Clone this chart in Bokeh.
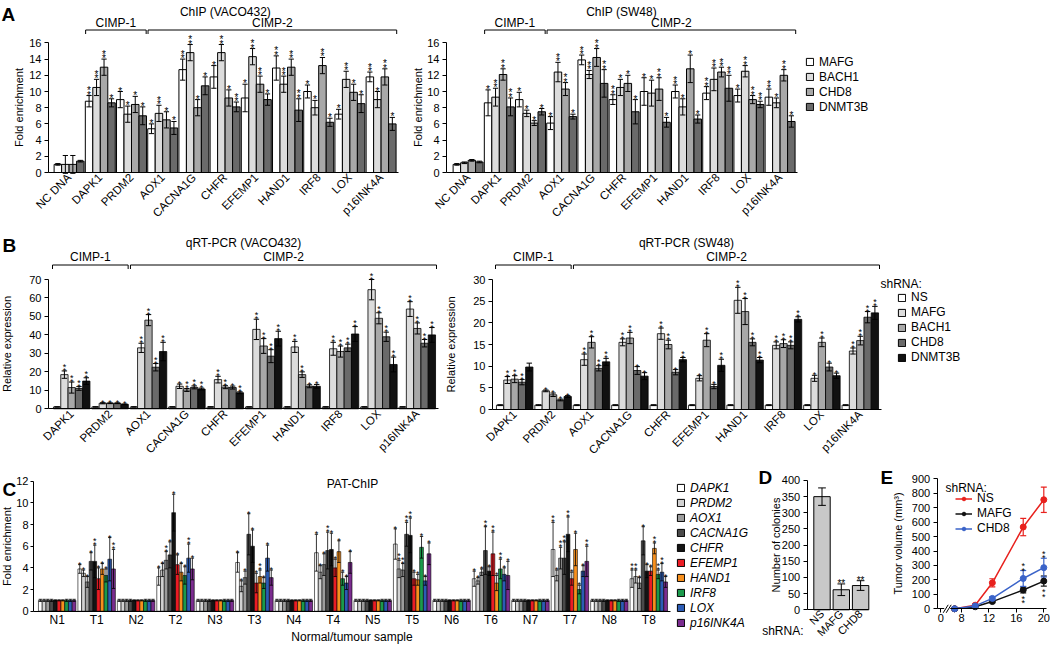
import math
from bokeh.plotting import figure
from bokeh.models import Range1d, FixedTicker, Legend, LegendItem
from bokeh.layouts import row, column
from bokeh.embed import file_html
from bokeh.resources import INLINE
from bokeh.core.properties import value

FONT = "Liberation Sans"

# ===================== DATA =====================
# ---- Panel A: ChIP fold enrichment ----
chip_targets = ["NC DNA", "DAPK1", "PRDM2", "AOX1", "CACNA1G", "CHFR", "EFEMP1", "HAND1", "IRF8", "LOX", "p16INK4A"]
chip_factors = ["MAFG", "BACH1", "CHD8", "DNMT3B"]
chip_colors = ["#ffffff", "#dcdcdc", "#a8a8a8", "#6a6a6a"]

vaco_chip_mafg = [1.0, 8.8, 9.0, 5.4, 12.7, 11.8, 9.2, 12.9, 10.0, 7.2, 11.8]
vaco_chip_bach1 = [1.0, 10.5, 7.2, 7.3, 14.8, 14.8, 14.3, 10.9, 8.0, 11.5, 9.0]
vaco_chip_chd8 = [1.0, 13.0, 8.4, 6.5, 8.0, 9.2, 10.9, 13.0, 13.2, 9.9, 11.8]
vaco_chip_dnmt3b = [1.4, 8.6, 7.0, 5.5, 10.7, 8.1, 9.0, 7.7, 6.2, 8.5, 6.0]
vaco_chip_mafg_err = [0.1, 0.7, 1.0, 0.6, 1.3, 1.4, 1.7, 1.5, 0.8, 0.6, 0.6]
vaco_chip_bach1_err = [1.1, 1.0, 1.0, 1.0, 1.0, 1.0, 1.0, 1.0, 0.9, 1.0, 1.0]
vaco_chip_chd8_err = [1.1, 1.0, 1.0, 1.0, 1.0, 1.0, 1.0, 1.0, 1.0, 1.0, 1.0]
vaco_chip_dnmt3b_err = [0.1, 0.5, 1.1, 0.8, 1.1, 0.6, 0.7, 1.4, 0.5, 1.1, 0.8]
vaco_chip_stars = [[0, 2, 1, 1, 2, 1, 1, 2, 1, 1, 2],
                   [0, 2, 1, 2, 2, 2, 2, 2, 1, 2, 1],
                   [0, 2, 1, 1, 1, 1, 2, 2, 2, 1, 2],
                   [0, 1, 1, 1, 1, 2, 1, 2, 1, 1, 1]]

sw48_chip_mafg = [1.0, 8.6, 9.0, 6.1, 13.9, 9.0, 10.0, 10.0, 9.8, 9.5, 9.3]
sw48_chip_bach1 = [1.2, 9.3, 7.3, 12.4, 12.1, 10.5, 9.8, 8.1, 11.5, 12.5, 8.6]
sw48_chip_chd8 = [1.5, 12.1, 6.1, 10.3, 14.2, 11.0, 10.3, 12.8, 12.4, 9.0, 12.0]
sw48_chip_dnmt3b = [1.3, 8.1, 7.5, 6.9, 11.0, 7.5, 6.2, 6.6, 10.4, 8.4, 6.3]
sw48_chip_mafg_err = [0.1, 1.6, 0.9, 0.8, 0.6, 0.6, 1.7, 0.8, 0.8, 0.8, 1.0]
sw48_chip_bach1_err = [0.1, 1.1, 0.4, 1.2, 0.5, 1.0, 1.6, 1.0, 1.4, 0.7, 0.6]
sw48_chip_chd8_err = [0.1, 0.7, 0.3, 0.8, 1.1, 1.0, 1.4, 1.7, 0.6, 0.5, 0.7]
sw48_chip_dnmt3b_err = [0.1, 1.1, 0.4, 0.3, 1.7, 1.5, 0.6, 0.5, 1.6, 0.4, 0.7]
sw48_chip_stars = [[0, 1, 1, 1, 2, 2, 1, 2, 2, 1, 2],
                   [0, 2, 1, 2, 2, 1, 1, 1, 2, 2, 1],
                   [0, 2, 1, 2, 2, 1, 2, 1, 2, 2, 2],
                   [0, 2, 1, 1, 2, 1, 1, 1, 2, 2, 1]]

# ---- Panel B: qRT-PCR relative expression ----
qpcr_genes = ["DAPK1", "PRDM2", "AOX1", "CACNA1G", "CHFR", "EFEMP1", "HAND1", "IRF8", "LOX", "p16INK4A"]
shrna_b = ["NS", "MAFG", "BACH1", "CHD8", "DNMT3B"]
shrna_b_colors = ["#ffffff", "#dcdcdc", "#a8a8a8", "#6a6a6a", "#111111"]

vaco_q_ns = [1.0, 1.0, 1.0, 1.0, 1.0, 1.0, 1.0, 1.0, 1.0, 1.0]
vaco_q_mafg = [18.5, 3.0, 33.0, 12.2, 15.8, 43.0, 33.5, 32.5, 64.5, 54.0]
vaco_q_bach1 = [11.5, 3.0, 48.0, 10.2, 11.7, 34.0, 18.5, 31.0, 49.0, 43.5]
vaco_q_chd8 = [11.0, 3.0, 22.5, 11.6, 11.5, 28.5, 12.2, 33.0, 39.0, 35.5]
vaco_q_dnmt3b = [15.0, 2.4, 31.0, 10.7, 8.7, 38.0, 12.2, 40.5, 24.0, 40.0]
vaco_q_ns_err = [0.1, 0.1, 0.1, 0.1, 0.1, 0.1, 0.1, 0.1, 0.1, 0.1]
vaco_q_mafg_err = [2.0, 0.3, 2.5, 1.2, 1.8, 5.5, 3.0, 3.5, 5.5, 4.0]
vaco_q_bach1_err = [3.0, 0.2, 3.0, 0.8, 0.8, 4.0, 1.5, 3.0, 3.0, 3.0]
vaco_q_chd8_err = [1.0, 0.2, 2.0, 0.8, 0.8, 3.5, 0.8, 2.0, 2.5, 2.0]
vaco_q_dnmt3b_err = [1.8, 0.2, 5.0, 0.5, 0.5, 4.0, 1.0, 4.0, 4.0, 4.0]
vaco_q_stars = [[0, 0, 0, 0, 0, 0, 0, 0, 0, 0],
                [2, 1, 2, 1, 2, 2, 2, 2, 2, 2],
                [2, 1, 2, 2, 2, 2, 2, 2, 2, 2],
                [2, 1, 2, 2, 1, 2, 1, 2, 2, 2],
                [2, 1, 2, 2, 2, 2, 1, 2, 2, 2]]

sw48_q_ns = [1.0, 1.0, 1.0, 1.0, 1.0, 1.0, 1.0, 1.0, 1.0, 1.0]
sw48_q_mafg = [6.8, 4.3, 11.5, 15.5, 17.5, 7.2, 25.2, 14.8, 7.2, 13.5]
sw48_q_bach1 = [7.0, 3.4, 15.5, 16.5, 15.0, 16.0, 22.6, 15.2, 15.5, 15.9]
sw48_q_chd8 = [6.3, 2.2, 9.5, 9.0, 8.6, 5.3, 15.5, 14.8, 9.8, 21.3]
sw48_q_dnmt3b = [9.8, 3.0, 11.0, 7.7, 11.5, 10.2, 11.4, 20.8, 7.8, 22.3]
sw48_q_ns_err = [0.1, 0.1, 0.1, 0.1, 0.1, 0.1, 0.1, 0.1, 0.1, 0.1]
sw48_q_mafg_err = [0.8, 0.2, 1.3, 0.8, 1.3, 0.6, 3.0, 0.8, 0.7, 0.7]
sw48_q_bach1_err = [0.8, 0.4, 1.3, 1.3, 1.0, 1.5, 3.0, 0.9, 1.0, 1.0]
sw48_q_chd8_err = [0.6, 0.2, 0.6, 0.9, 0.6, 0.5, 0.8, 0.8, 0.9, 1.3]
sw48_q_dnmt3b_err = [0.9, 0.2, 0.8, 0.8, 0.5, 1.4, 0.6, 0.6, 0.6, 1.5]
sw48_q_stars = [[0, 0, 0, 0, 0, 0, 0, 0, 0, 0],
                [2, 1, 2, 2, 2, 1, 2, 2, 1, 2],
                [2, 1, 2, 2, 2, 2, 2, 2, 2, 2],
                [2, 1, 2, 1, 1, 1, 2, 2, 1, 2],
                [0, 1, 2, 1, 2, 2, 2, 2, 1, 2]]

# ---- Panel C: PAT-ChIP ----
pat_samples = ["N1", "T1", "N2", "T2", "N3", "T3", "N4", "T4", "N5", "T5", "N6", "T6", "N7", "T7", "N8", "T8"]
pat_genes = ["DAPK1", "PRDM2", "AOX1", "CACNA1G", "CHFR", "EFEMP1", "HAND1", "IRF8", "LOX", "p16INK4A"]
pat_colors = ["#ffffff", "#d2d2d2", "#9c9c9c", "#4a4a4a", "#141414",
              "#ec1c24", "#f7901e", "#1b9a4b", "#2c5cb5", "#7b2c8f"]
pat_N1 = [1.0, 1.0, 1.0, 1.0, 1.0, 1.0, 1.0, 1.0, 1.0, 1.0]
pat_T1 = [3.9, 3.5, 2.7, 4.6, 4.6, 3.0, 3.9, 3.3, 4.8, 3.9]
pat_N2 = [1.0, 1.0, 1.0, 1.0, 1.0, 1.0, 1.0, 1.0, 1.0, 1.0]
pat_T2 = [3.2, 3.8, 4.7, 5.2, 9.1, 4.3, 3.6, 3.3, 4.9, 3.9]
pat_N3 = [1.0, 1.0, 1.0, 1.0, 1.0, 1.0, 1.0, 1.0, 1.0, 1.0]
pat_T3 = [4.5, 2.3, 3.1, 7.1, 6.0, 2.6, 3.2, 2.6, 4.9, 3.1]
pat_N4 = [1.0, 1.0, 1.0, 1.0, 1.0, 1.0, 1.0, 1.0, 1.0, 1.0]
pat_T4 = [5.4, 3.6, 4.3, 5.6, 5.7, 4.0, 5.5, 3.0, 2.6, 4.5]
pat_N5 = [1.0, 1.0, 1.0, 1.0, 1.0, 1.0, 1.0, 1.0, 1.0, 1.0]
pat_T5 = [6.2, 3.9, 3.8, 7.1, 7.0, 3.0, 2.9, 5.9, 2.8, 5.3]
pat_N6 = [1.0, 1.0, 1.0, 1.0, 1.0, 1.0, 1.0, 1.0, 1.0, 1.0]
pat_T6 = [3.0, 2.8, 3.6, 5.6, 3.7, 5.3, 2.6, 3.9, 3.4, 3.3]
pat_N7 = [1.0, 1.0, 1.0, 1.0, 1.0, 1.0, 1.0, 1.0, 1.0, 1.0]
pat_T7 = [5.7, 3.3, 4.9, 4.9, 7.1, 3.0, 5.7, 2.0, 3.7, 4.6]
pat_N8 = [1.0, 1.0, 1.0, 1.0, 1.0, 1.0, 1.0, 1.0, 1.0, 1.0]
pat_T8 = [3.0, 3.2, 2.6, 6.5, 3.7, 3.7, 5.8, 3.4, 3.6, 2.7]
pat_N_err = [0.1, 0.1, 0.1, 0.1, 0.05, 0.05, 0.05, 0.1, 0.1, 0.1]
pat_T1_err = [0.4, 0.3, 0.5, 0.8, 1.5, 1.0, 0.5, 0.6, 2.0, 1.8]
pat_T2_err = [0.8, 0.6, 0.8, 1.2, 1.7, 0.9, 0.8, 0.8, 1.3, 1.0]
pat_T3_err = [0.9, 0.5, 0.6, 1.9, 1.5, 0.9, 0.6, 0.5, 1.2, 0.7]
pat_T4_err = [1.7, 0.6, 1.0, 1.7, 1.5, 0.8, 1.0, 0.6, 0.6, 1.0]
pat_T5_err = [1.4, 0.8, 0.6, 1.1, 1.6, 0.6, 0.5, 1.0, 0.4, 1.0]
pat_T6_err = [0.7, 0.3, 0.3, 2.2, 0.4, 2.0, 0.7, 0.9, 0.6, 1.3]
pat_T7_err = [2.5, 0.5, 1.0, 1.5, 1.6, 0.6, 1.5, 0.4, 0.5, 1.4]
pat_T8_err = [0.8, 0.6, 0.5, 1.3, 0.6, 0.4, 0.5, 0.4, 0.8, 0.5]
pat_N_stars = [0, 0, 0, 0, 0, 0, 0, 0, 0, 0]
pat_T1_stars = [1, 1, 1, 1, 2, 1, 1, 1, 1, 2]
pat_T2_stars = [1, 1, 2, 1, 1, 1, 1, 1, 2, 1]
pat_T3_stars = [1, 1, 1, 1, 1, 1, 2, 1, 1, 1]
pat_T4_stars = [1, 1, 1, 2, 1, 1, 1, 1, 1, 1]
pat_T5_stars = [1, 2, 2, 2, 2, 1, 1, 1, 1, 1]
pat_T6_stars = [1, 1, 1, 2, 1, 2, 1, 2, 1, 1]
pat_T7_stars = [2, 1, 2, 2, 2, 1, 1, 1, 1, 2]
pat_T8_stars = [2, 2, 1, 1, 1, 1, 2, 2, 2, 1]

# ---- Panel D: colonies ----
colony_shrna = ["NS", "MAFG", "CHD8"]
colony_count = [350, 62, 75]
colony_err = [27, 18, 15]
colony_stars = [0, 2, 2]

# ---- Panel E: tumour volume ----
tumor_days = [7, 10, 12.5, 17, 20]
tumor_ns = [0, 25, 180, 566, 755]
tumor_ns_err = [0, 8, 28, 60, 88]
tumor_mafg = [0, 14, 50, 130, 192]
tumor_mafg_err = [0, 4, 8, 20, 35]
tumor_chd8 = [0, 20, 72, 210, 285]
tumor_chd8_err = [0, 5, 12, 55, 65]
tumor_names = ["NS", "MAFG", "CHD8"]
tumor_colors = ["#e8211d", "#111111", "#3a63c9"]


# ===================== HELPERS =====================
class Geo:
    """Placement of one figure on the page: page pixels <-> data units."""

    def __init__(self, left, top, width, height, x0, xppu, y0, yppu):
        self.left, self.top, self.width, self.height = left, top, width, height
        self.x0, self.xppu, self.y0, self.yppu = x0, xppu, y0, yppu

    def X(self, px):
        return (px - self.x0) / self.xppu

    def Y(self, py):
        return (self.y0 - py) / self.yppu

    def dx(self, px):
        return px / self.xppu

    def dy(self, px):
        return px / self.yppu


def mkfig(g):
    p = figure(width=g.width, height=g.height,
               x_range=Range1d(g.X(g.left), g.X(g.left + g.width)),
               y_range=Range1d(g.Y(g.top + g.height), g.Y(g.top)),
               output_backend="svg", toolbar_location=None, title=None, min_border=0)
    p.outline_line_color = None
    p.xgrid.visible = False
    p.ygrid.visible = False
    for ax in p.axis:
        ax.axis_line_color = "black"
        ax.axis_line_width = 1
        ax.major_tick_line_color = "black"
        ax.major_tick_out = 4
        ax.major_tick_in = 0
        ax.minor_tick_out = 0
        ax.minor_tick_in = 0
        ax.minor_tick_line_color = None
        ax.major_label_text_font = FONT
        ax.major_label_text_font_size = "11px"
        ax.major_label_text_color = "black"
        ax.major_label_standoff = 3
        ax.axis_label_text_font = FONT
        ax.axis_label_text_font_size = "11px"
        ax.axis_label_text_font_style = "normal"
        ax.axis_label_text_color = "black"
    return p


def setup_axes(p, g, yaxis_px, ybounds, yticks, ylabel, ylab_standoff, xbounds_px):
    ya = p.yaxis[0]
    ya.fixed_location = g.X(yaxis_px)
    ya.bounds = ybounds
    ya.ticker = FixedTicker(ticks=yticks)
    ya.axis_label = ylabel
    ya.axis_label_standoff = ylab_standoff
    xa = p.xaxis[0]
    xa.fixed_location = 0
    xa.bounds = (g.X(xbounds_px[0]), g.X(xbounds_px[1]))


def cat_xaxis(p, labels, angle, size, standoff=3):
    ax = p.xaxis[0]
    ax.ticker = FixedTicker(ticks=list(range(len(labels))))
    ax.major_label_overrides = {i: s for i, s in enumerate(labels)}
    ax.major_tick_line_color = None
    ax.major_tick_out = 0
    ax.major_label_orientation = angle
    ax.major_label_text_font_size = size
    ax.major_label_standoff = standoff


def add_grouped(p, means, errs, stars, colors, bw, lw, cap, star_px, err_lw=1.0,
                star_off=5, star_gap=4.5):
    n = len(means)
    for k in range(n):
        off = (k - (n - 1) / 2.0) * bw
        xs = [i + off for i in range(len(means[k]))]
        p.vbar(x=xs, bottom=0, top=means[k], width=bw, fill_color=colors[k],
               line_color="black", line_width=lw)
        hi = [m + e for m, e in zip(means[k], errs[k])]
        lo = [m - e for m, e in zip(means[k], errs[k])]
        hw = bw * cap / 2.0
        p.segment(x0=xs, y0=lo, x1=xs, y1=hi, line_color="black", line_width=err_lw)
        p.segment(x0=[x - hw for x in xs], y0=hi, x1=[x + hw for x in xs], y1=hi,
                  line_color="black", line_width=err_lw)
        p.segment(x0=[x - hw for x in xs], y0=lo, x1=[x + hw for x in xs], y1=lo,
                  line_color="black", line_width=err_lw)
        for level in (1, 2):
            sx = [x for x, s in zip(xs, stars[k]) if s >= level]
            sy = [h for h, s in zip(hi, stars[k]) if s >= level]
            if sx:
                p.text(x=sx, y=sy, text=["*"] * len(sx), text_font=value(FONT),
                       text_font_size="%dpx" % star_px, text_align="center",
                       text_baseline="bottom", text_color="black",
                       y_offset=star_off - (level - 1) * star_gap)


def add_text(p, x, y, s, size="12px", align="center", baseline="middle", style="normal"):
    p.text(x=[x], y=[y], text=[s], text_font=value(FONT), text_font_size=size,
           text_align=align, text_baseline=baseline, text_font_style=style,
           text_color="black")


def add_letter(p, g, px, py, s):
    add_text(p, g.X(px), g.Y(py), s, size="19px", align="left", baseline="top", style="bold")


def add_bracket(p, g, x0, x1, line_py, label, label_py):
    y = g.Y(line_py)
    yd = g.Y(line_py + 4)
    p.multi_line(xs=[[x0, x0, x1, x1]], ys=[[yd, y, y, yd]], line_color="black", line_width=1)
    add_text(p, (x0 + x1) / 2.0, g.Y(label_py), label, size="12px")


def style_legend(lg, size="12px", italic=False, gw=9, gh=9, lh=14, spacing=1):
    lg.label_text_font = FONT
    lg.label_text_font_size = size
    lg.label_text_font_style = "italic" if italic else "normal"
    lg.label_text_color = "black"
    lg.glyph_width = gw
    lg.glyph_height = gh
    lg.label_height = lh
    lg.label_standoff = 5
    lg.spacing = spacing
    lg.padding = 0
    lg.margin = 0
    lg.border_line_color = None
    lg.background_fill_alpha = 0


def box_legend(p, g, names, colors, left_px, top_px, italic=False):
    """Legend with square swatches; top-left corner given in page pixels."""
    items = []
    for nm, c in zip(names, colors):
        r = p.vbar(x=[g.X(-500)], top=[g.Y(2000)], bottom=g.Y(2001), width=1,
                   fill_color=c, line_color="black", line_width=1)
        items.append(LegendItem(label=nm, renderers=[r]))
    n = len(names)
    h = n * 14 + (n - 1) * 1
    lg = Legend(items=items, location=(left_px - g.left, (g.top + g.height) - (top_px + h)))
    style_legend(lg, italic=italic)
    p.add_layout(lg)


# ===================== ROW A =====================
ga1 = Geo(0, 0, 400, 228, 68.6, 31.2, 172.0, 8.1)
ga2 = Geo(400, 0, 650, 228, 467.6, 31.2, 172.0, 8.1)


def chip_panel(g, yaxis_px, xend_px, means, errs, stars, title, title_px, lab_standoff):
    p = mkfig(g)
    setup_axes(p, g, yaxis_px, (0, 16), [0, 2, 4, 6, 8, 10, 12, 14, 16],
               "Fold enrichment", lab_standoff, (yaxis_px, xend_px))
    cat_xaxis(p, chip_targets, math.pi / 4, "11.5px")
    add_grouped(p, means, errs, stars, chip_colors, 0.24, 1.0, 0.7, 10)
    add_text(p, g.X(title_px), g.Y(11.5), title)
    add_bracket(p, g, 0.53, 2.47, 29.5, "CIMP-1", 22.5)
    add_bracket(p, g, 2.53, 10.5, 29.5, "CIMP-2", 22.5)
    return p


pa1 = chip_panel(ga1, 48, 398,
                 [vaco_chip_mafg, vaco_chip_bach1, vaco_chip_chd8, vaco_chip_dnmt3b],
                 [vaco_chip_mafg_err, vaco_chip_bach1_err, vaco_chip_chd8_err, vaco_chip_dnmt3b_err],
                 vaco_chip_stars, "ChIP (VACO432)", 225, 1)
add_letter(pa1, ga1, 1, 3.7, "A")

pa2 = chip_panel(ga2, 446, 797,
                 [sw48_chip_mafg, sw48_chip_bach1, sw48_chip_chd8, sw48_chip_dnmt3b],
                 [sw48_chip_mafg_err, sw48_chip_bach1_err, sw48_chip_chd8_err, sw48_chip_dnmt3b_err],
                 sw48_chip_stars, "ChIP (SW48)", 621, 0)
box_legend(pa2, ga2, chip_factors, chip_colors, 805, 54.5)

# ===================== ROW B =====================
gb1 = Geo(0, 228, 440, 234, 71.2, 38.4, 408.3, 1.847)
gb2 = Geo(440, 228, 610, 234, 514.2, 38.4, 409.0, 4.333)


def qpcr_panel(g, yaxis_px, xend_px, yticks, means, errs, stars, title, title_px):
    p = mkfig(g)
    setup_axes(p, g, yaxis_px, (0, yticks[-1]), yticks, "Relative expression", 13,
               (yaxis_px, xend_px))
    cat_xaxis(p, qpcr_genes, math.pi / 4, "11.5px")
    add_grouped(p, means, errs, stars, shrna_b_colors, 0.19, 0.8, 0.75, 9, star_gap=4)
    add_text(p, g.X(title_px), g.Y(242), title)
    add_bracket(p, g, -0.5, 1.47, 264.5, "CIMP-1", 256)
    add_bracket(p, g, 1.53, 9.5, 264.5, "CIMP-2", 256)
    return p


pb1 = qpcr_panel(gb1, 48, 438, [0, 10, 20, 30, 40, 50, 60, 70],
                 [vaco_q_ns, vaco_q_mafg, vaco_q_bach1, vaco_q_chd8, vaco_q_dnmt3b],
                 [vaco_q_ns_err, vaco_q_mafg_err, vaco_q_bach1_err, vaco_q_chd8_err, vaco_q_dnmt3b_err],
                 vaco_q_stars, "qRT-PCR (VACO432)", 243)
add_letter(pb1, gb1, 2, 234.7, "B")

pb2 = qpcr_panel(gb2, 492, 881, [0, 5, 10, 15, 20, 25, 30],
                 [sw48_q_ns, sw48_q_mafg, sw48_q_bach1, sw48_q_chd8, sw48_q_dnmt3b],
                 [sw48_q_ns_err, sw48_q_mafg_err, sw48_q_bach1_err, sw48_q_chd8_err, sw48_q_dnmt3b_err],
                 sw48_q_stars, "qRT-PCR (SW48)", 686)
add_text(pb2, gb2.X(880), gb2.Y(283), "shRNA:", size="12px", align="left")
box_legend(pb2, gb2, shrna_b, shrna_b_colors, 897, 290)

# ===================== ROW C =====================
pat_values = [pat_N1, pat_T1, pat_N2, pat_T2, pat_N3, pat_T3, pat_N4, pat_T4,
              pat_N5, pat_T5, pat_N6, pat_T6, pat_N7, pat_T7, pat_N8, pat_T8]
pat_errs = [pat_N_err, pat_T1_err, pat_N_err, pat_T2_err, pat_N_err, pat_T3_err, pat_N_err, pat_T4_err,
            pat_N_err, pat_T5_err, pat_N_err, pat_T6_err, pat_N_err, pat_T7_err, pat_N_err, pat_T8_err]
pat_stars = [pat_N_stars, pat_T1_stars, pat_N_stars, pat_T2_stars, pat_N_stars, pat_T3_stars,
             pat_N_stars, pat_T4_stars, pat_N_stars, pat_T5_stars, pat_N_stars, pat_T6_stars,
             pat_N_stars, pat_T7_stars, pat_N_stars, pat_T8_stars]
pat_by_gene = [[s[gi] for s in pat_values] for gi in range(len(pat_genes))]
pat_err_by_gene = [[s[gi] for s in pat_errs] for gi in range(len(pat_genes))]
pat_star_by_gene = [[s[gi] for s in pat_stars] for gi in range(len(pat_genes))]

gc = Geo(0, 462, 752, 184, 56.7, 39.44, 610.7, 10.83)
pc = mkfig(gc)
pc.yaxis[0].major_tick_out = 3
pc.yaxis[0].major_label_standoff = 2
setup_axes(pc, gc, 33, (0, 12), [0, 2, 4, 6, 8, 10, 12], "Fold enrichment", 0, (33, 670))
cat_xaxis(pc, pat_samples, "horizontal", "12px", standoff=2)
pc.xaxis[0].axis_label = "Normal/tumour sample"
pc.xaxis[0].axis_label_standoff = -1
pc.xaxis[0].axis_label_text_font_size = "12px"
add_grouped(pc, pat_by_gene, pat_err_by_gene, pat_star_by_gene, pat_colors, 0.095, 0.6, 0.9, 9,
            err_lw=0.8, star_gap=4)
add_text(pc, gc.X(352), gc.Y(483), "PAT-ChIP")
add_letter(pc, gc, 2, 478.7, "C")
box_legend(pc, gc, pat_genes, pat_colors, 676, 480.5, italic=True)

# ---- D ----
gd = Geo(752, 462, 120, 184, 821.5, 19.3, 609.3, 0.3233)
pdd = mkfig(gd)
setup_axes(pdd, gd, 806.7, (0, 400), [0, 50, 100, 150, 200, 250, 300, 350, 400],
           "Number of colonies", -3, (806.7, 868))
cat_xaxis(pdd, colony_shrna, math.pi / 4, "11px", standoff=2)
d_x = [0, 1, 2]
pdd.vbar(x=d_x, top=colony_count, bottom=0, width=0.85, fill_color="#c8c8c8",
         line_color="black", line_width=1)
d_hi = [c + e for c, e in zip(colony_count, colony_err)]
d_lo = [c - e for c, e in zip(colony_count, colony_err)]
pdd.segment(x0=d_x, y0=d_lo, x1=d_x, y1=d_hi, line_color="black", line_width=1)
pdd.segment(x0=[x - 0.2 for x in d_x], y0=d_hi, x1=[x + 0.2 for x in d_x], y1=d_hi,
            line_color="black", line_width=1)
pdd.segment(x0=[x - 0.2 for x in d_x], y0=d_lo, x1=[x + 0.2 for x in d_x], y1=d_lo,
            line_color="black", line_width=1)
d_sx = [x for x, s in zip(d_x, colony_stars) if s]
d_sy = [h for h, s in zip(d_hi, colony_stars) if s]
pdd.text(x=d_sx, y=d_sy, text=["**"] * len(d_sx), text_font=value(FONT),
         text_font_size="10px", text_align="center", text_baseline="bottom", y_offset=5)
add_letter(pdd, gd, 758, 466.7, "D")
add_text(pdd, gd.X(803), gd.Y(630), "shRNA:", size="12px", align="right")

# ---- E ----
ge = Geo(872, 462, 178, 184, 906.1, 6.86, 608.3, 130.0 / 900.0)
pe = mkfig(ge)
setup_axes(pe, ge, 936.7, (0, 900), [0, 100, 200, 300, 400, 500, 600, 700, 800, 900],
           "Tumor volume (mm\u00b3)", 5, (936.7, 1046))
pe.xaxis[0].ticker = FixedTicker(ticks=[5, 8, 12, 16, 20])
pe.xaxis[0].major_label_overrides = {5: "0"}
pe.xaxis[0].major_label_standoff = 1
e_items = []
for name, vals, errs, col in zip(tumor_names, [tumor_ns, tumor_mafg, tumor_chd8],
                                 [tumor_ns_err, tumor_mafg_err, tumor_chd8_err], tumor_colors):
    hi = [v + e for v, e in zip(vals, errs)]
    lo = [v - e for v, e in zip(vals, errs)]
    cw = ge.dx(3)
    pe.segment(x0=tumor_days, y0=lo, x1=tumor_days, y1=hi, line_color=col, line_width=1.2)
    pe.segment(x0=[d - cw for d in tumor_days], y0=hi, x1=[d + cw for d in tumor_days], y1=hi,
               line_color=col, line_width=1.2)
    pe.segment(x0=[d - cw for d in tumor_days], y0=lo, x1=[d + cw for d in tumor_days], y1=lo,
               line_color=col, line_width=1.2)
    lr = pe.line(tumor_days, vals, line_color=col, line_width=1.5)
    sr = pe.scatter(tumor_days, vals, marker="circle", size=6, fill_color=col, line_color=col)
    e_items.append(LegendItem(label=name, renderers=[lr, sr]))
# significance marks (days 17 and 20): above CHD8, below MAFG
e_star_days = [tumor_days[3], tumor_days[4]]
chd8_top = [tumor_chd8[3] + tumor_chd8_err[3], tumor_chd8[4] + tumor_chd8_err[4]]
mafg_bot = [tumor_mafg[3] - tumor_mafg_err[3], tumor_mafg[4] - tumor_mafg_err[4]]
for off in (5, 0.5):
    pe.text(x=e_star_days, y=chd8_top, text=["*", "*"], text_font=value(FONT), text_font_size="9px",
            text_align="center", text_baseline="bottom", y_offset=off)
for off in (1, 5.5):
    pe.text(x=e_star_days, y=mafg_bot, text=["*", "*"], text_font=value(FONT), text_font_size="9px",
            text_align="center", text_baseline="top", y_offset=off)
lg_e = Legend(items=e_items, location=(955 - ge.left, (ge.top + ge.height) - (491 + 44)))
style_legend(lg_e, gw=17, gh=9, lh=14, spacing=1)
pe.add_layout(lg_e)
add_text(pe, ge.X(945), ge.Y(487), "shRNA:", size="12px", align="left")
add_letter(pe, ge, 880, 466.7, "E")
# axis break mark on the x axis
bx = ge.X(946.7)
pe.rect(x=[bx], y=[0], width=ge.dx(6), height=ge.dy(9), fill_color="white", line_color=None,
        level="overlay")
pe.segment(x0=[bx - ge.dx(4), bx - ge.dx(1)], y0=[-ge.dy(4), -ge.dy(4)],
           x1=[bx + ge.dx(1), bx + ge.dx(4)], y1=[ge.dy(4), ge.dy(4)],
           line_color="black", line_width=1, level="overlay")

# ===================== LAYOUT =====================
layout = column(
    row(pa1, pa2, spacing=0),
    row(pb1, pb2, spacing=0),
    row(pc, pdd, pe, spacing=0),
    spacing=0,
)

open("out.html", "w").write(file_html(layout, INLINE))
